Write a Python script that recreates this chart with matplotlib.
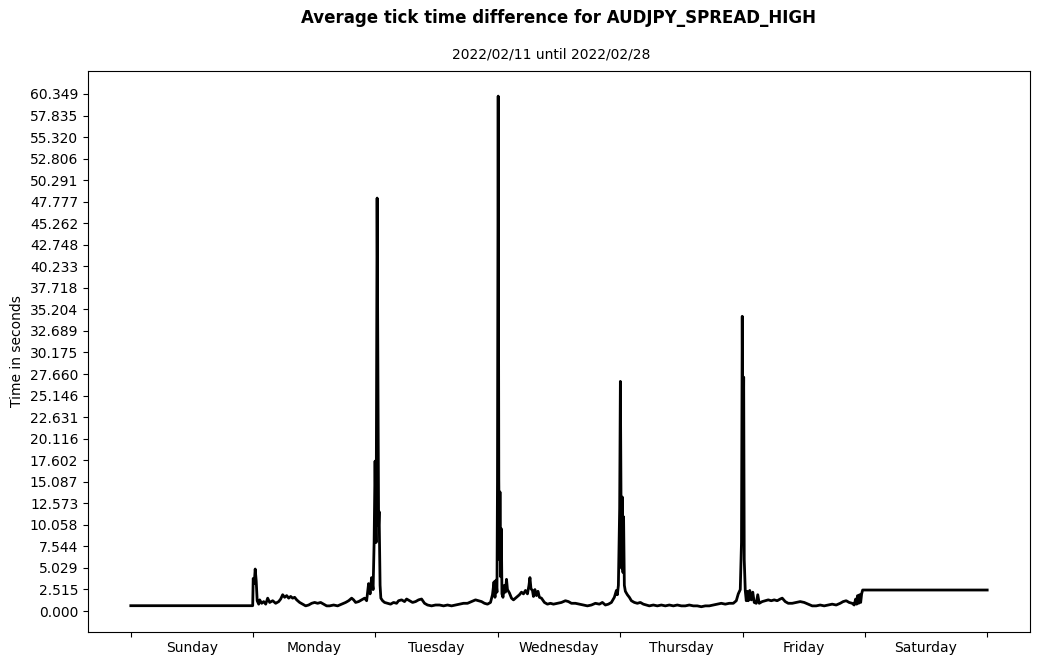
import matplotlib
matplotlib.use("Agg")
import matplotlib.pyplot as plt
import numpy as np
from matplotlib.ticker import FixedLocator, NullFormatter, FixedFormatter

title = "Average tick time difference for AUDJPY_SPREAD_HIGH"
subtitle = "2022/02/11 until 2022/02/28"
ylabel = "Time in seconds"
days = ["Sunday", "Monday", "Tuesday", "Wednesday", "Thursday", "Friday", "Saturday"]

# hours since start of week
hours = [
    0.0, 23.91,
    24.01, 24.21, 24.40, 24.60, 24.79, 25.09, 25.28, 25.68, 26.07, 26.46, 26.85, 27.24,
    27.83, 28.42, 29.01, 29.40, 29.79, 30.18, 30.58, 30.97, 31.36, 31.75, 32.14, 32.54,
    33.12, 33.71, 34.30, 34.89, 35.48, 36.06, 36.65, 37.24, 37.83, 38.42, 39.00, 39.79,
    40.57, 41.36, 42.14, 42.73, 43.32, 43.71, 44.10, 44.69, 45.28, 45.86, 46.26, 46.65,
    46.94, 47.24, 47.53, 47.73, 47.92, 48.12, 48.32, 48.51, 48.61, 48.71, 48.90, 49.05,
    49.39, 49.78, 50.37, 50.96, 51.55, 52.14, 52.53, 53.12, 53.70, 54.10, 54.68, 55.27,
    55.86, 56.45, 57.04, 57.62, 58.21, 59.00, 59.78, 60.56, 61.35, 62.13, 62.92, 63.70,
    64.48, 65.27, 66.05, 66.84, 67.62, 68.21, 68.80, 69.38, 69.97, 70.56, 70.95, 71.25,
    71.44, 71.64, 71.83, 71.93, 72.07, 72.19, 72.32, 72.42, 72.56, 72.68, 72.81, 73.01,
    73.30, 73.50, 73.70, 73.89, 74.28, 74.68, 75.07, 75.46, 75.85, 76.24, 76.64, 77.03,
    77.42, 77.81, 78.11, 78.30, 78.50, 78.79, 78.99, 79.28, 79.58, 79.87, 80.16, 80.56,
    81.14, 81.73, 82.32, 82.91, 83.69, 84.48, 85.26, 85.85, 86.44, 87.22, 88.00, 88.79,
    89.57, 90.36, 91.14, 91.92, 92.51, 93.10, 93.69, 94.28, 94.86, 95.26, 95.45, 95.65,
    95.90, 96.04, 96.16, 96.28, 96.43, 96.55, 96.67, 96.82,
    97.02, 97.41, 97.80, 98.20, 98.78, 99.37, 99.96, 100.55, 101.14, 101.72, 102.51, 103.29,
    104.08, 104.86, 105.64, 106.43, 107.21, 108.00, 108.78, 109.56, 110.35, 111.13, 111.92,
    112.70, 113.48, 114.27, 115.05, 115.84, 116.62, 117.40, 118.19, 118.78, 119.17, 119.56,
    119.80, 119.95, 120.09, 120.23, 120.34, 120.54,
    120.74, 120.93, 121.13, 121.42, 121.72, 122.01, 122.30, 122.70, 122.99, 123.28, 123.87,
    124.46, 125.05, 125.64, 126.22, 126.81, 127.40, 127.79, 128.38, 128.97, 129.75, 130.54,
    131.32, 132.10, 132.89, 133.67, 134.46, 135.24, 136.02, 136.81, 137.59, 138.38, 139.16,
    139.75, 140.34, 140.92, 141.51, 141.90, 142.20, 142.39, 142.59, 142.79, 142.98, 143.18,
    143.37, 143.57, 168.0,
]

seconds = [
    0.62, 0.62,
    3.8, 3.2, 4.9, 3.5, 1.2, 0.8, 1.3, 0.9, 1.1, 0.8, 1.5, 1.0,
    1.2, 0.9, 1.1, 1.4, 1.9, 1.6, 1.8, 1.5, 1.7, 1.5, 1.6, 1.3,
    1.0, 0.8, 0.6, 0.7, 0.9, 1.0, 0.9, 1.0, 0.8, 0.6, 0.6, 0.7,
    0.6, 0.8, 1.0, 1.2, 1.5, 1.3, 1.0, 1.1, 1.3, 1.5, 1.2, 3.2,
    2.0, 3.9, 2.5, 8.0, 17.5, 8.0, 48.2, 24.5, 10.0, 11.6, 3.0, 1.5,
    1.2, 1.0, 0.9, 0.8, 1.0, 0.9, 1.2, 1.3, 1.1, 1.4, 1.2, 1.0,
    1.1, 1.3, 1.4, 0.9, 0.7, 0.6, 0.7, 0.7, 0.6, 0.7, 0.6, 0.7,
    0.8, 0.9, 0.9, 1.1, 1.3, 1.2, 1.1, 0.9, 0.8, 1.0, 1.9, 3.4,
    1.6, 3.6, 2.2, 15.0, 60.1, 15.3, 6.0, 13.9, 4.0, 9.6, 2.0, 1.6,
    3.0, 2.2, 3.7, 2.5, 2.1, 1.5, 1.3, 1.5, 1.7, 1.9, 2.2, 2.0,
    2.4, 2.0, 3.0, 3.9, 2.6, 2.4, 1.7, 2.5, 1.8, 2.3, 1.6, 1.5,
    1.0, 0.8, 0.9, 0.8, 0.9, 1.0, 1.2, 1.1, 0.9, 0.9, 0.8, 0.7,
    0.6, 0.7, 0.9, 0.8, 1.0, 0.7, 0.8, 1.0, 1.6, 2.4, 1.9, 3.0,
    12.0, 26.8, 13.8, 5.0, 13.3, 4.5, 11.0, 3.0,
    2.3, 1.9, 1.6, 1.2, 1.0, 0.9, 1.0, 0.8, 0.7, 0.6, 0.7, 0.6,
    0.7, 0.6, 0.7, 0.6, 0.7, 0.6, 0.6, 0.7, 0.6, 0.6, 0.5,
    0.6, 0.6, 0.7, 0.8, 0.9, 0.8, 0.9, 0.9, 1.2, 2.0, 2.5,
    8.0, 34.4, 14.0, 27.3, 6.0, 2.4,
    1.2, 2.3, 1.2, 2.4, 1.3, 2.2, 1.0, 0.9, 1.9, 0.9, 1.1,
    1.2, 1.3, 1.2, 1.3, 1.2, 1.4, 1.5, 1.1, 0.9, 0.9, 1.0,
    1.1, 1.0, 0.8, 0.6, 0.6, 0.7, 0.6, 0.7, 0.8, 0.7, 0.9,
    1.1, 1.2, 1.0, 0.9, 0.7, 1.4, 0.8, 1.8, 0.9, 1.9, 1.0,
    2.0, 2.45, 2.45,
]

ytick_max = 60.34945
n_yticks = 25

fig = plt.figure(figsize=(10.39, 6.64), dpi=100)
ax = fig.add_axes([88 / 1039, 32 / 664, (1030 - 88) / 1039, (632 - 71) / 664])
ax.plot(hours, seconds, color="black", linewidth=2)

ax.set_xlim(-8.4, 176.4)
ax.set_ylim(-2.45, 63.03)

yt = np.linspace(0, ytick_max, n_yticks)
ax.set_yticks(yt)
ax.set_yticklabels([f"{v:.3f}" for v in yt])

major = [24 * i for i in range(len(days) + 1)]
minor = [24 * i + 12 for i in range(len(days))]
ax.xaxis.set_major_locator(FixedLocator(major))
ax.xaxis.set_major_formatter(NullFormatter())
ax.xaxis.set_minor_locator(FixedLocator(minor))
ax.xaxis.set_minor_formatter(FixedFormatter(days))
ax.tick_params(axis="x", which="minor", length=0, pad=6.5)

ax.set_ylabel(ylabel)
ax.set_title(subtitle, fontsize=10, pad=9, x=0.4915)
fig.text(0.5375, 0.973, title, fontsize=12, fontweight="bold", ha="center", va="center")

fig.savefig("out.png", dpi=100)
